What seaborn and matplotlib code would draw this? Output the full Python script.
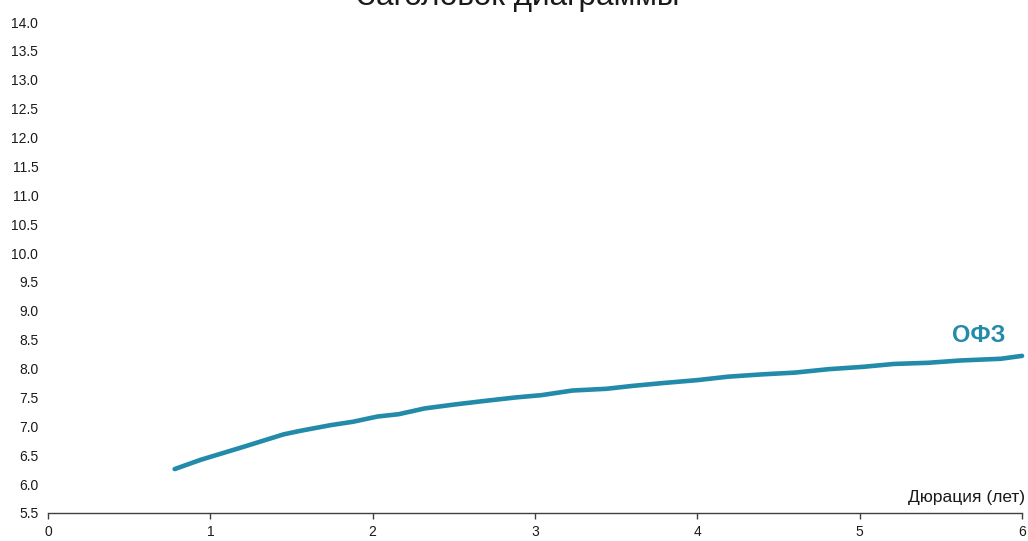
import matplotlib
matplotlib.use("Agg")
import matplotlib.pyplot as plt
import seaborn as sns
import pandas as pd
import numpy as np

# OFZ yield curve: duration (years) vs yield (%)
duration = [0.78, 0.94, 1.21, 1.45, 1.55, 1.74, 1.88, 2.03, 2.16, 2.32, 2.51,
            2.69, 2.88, 3.04, 3.23, 3.44, 3.60, 3.79, 4.00, 4.19, 4.40, 4.60,
            4.81, 5.02, 5.21, 5.42, 5.62, 5.87, 6.00]
yield_pct = [6.26, 6.42, 6.65, 6.86, 6.92, 7.02, 7.08, 7.17, 7.21, 7.31, 7.38,
             7.44, 7.50, 7.54, 7.62, 7.65, 7.70, 7.75, 7.80, 7.86, 7.90, 7.93,
             7.99, 8.03, 8.08, 8.10, 8.14, 8.17, 8.22]

x_ticks = [0, 1, 2, 3, 4, 5, 6]
y_ticks = [5.5, 6.0, 6.5, 7.0, 7.5, 8.0, 8.5, 9.0, 9.5, 10.0, 10.5, 11.0,
           11.5, 12.0, 12.5, 13.0, 13.5, 14.0]

title = "Заголовок диаграммы"
series_name = "ОФЗ"
x_label = "Дюрация (лет)"

line_color = "#238BAA"
text_color = "#1a1a1a"

sns.set_style("white")
plt.rcParams["font.family"] = ["Liberation Sans", "DejaVu Sans"]

df = pd.DataFrame({"duration": duration, "yield": yield_pct})

fig = plt.figure(figsize=(10.28, 5.41), dpi=100)
ax = fig.add_axes([0.0467, 0.0518, 0.9475, 0.9075])

sns.lineplot(data=df, x="duration", y="yield", ax=ax, color=line_color,
             linewidth=3.3, solid_capstyle="round", clip_on=False)

ax.set_xlim(0, 6)
ax.set_ylim(5.5, 14.0)
ax.set_xticks(x_ticks)
ax.set_xticklabels([str(v) for v in x_ticks])
ax.set_yticks(y_ticks)
ax.set_yticklabels([f"{v:.1f}" for v in y_ticks])

for side in ("top", "right", "left"):
    ax.spines[side].set_visible(False)
ax.spines["bottom"].set_color("#404040")
ax.spines["bottom"].set_linewidth(1.0)

ax.tick_params(axis="x", which="both", direction="out", length=4, width=1,
               color="#404040", labelsize=10, labelcolor=text_color, pad=5,
               bottom=True)
ax.tick_params(axis="y", which="both", length=0, labelsize=10,
               labelcolor=text_color, pad=7, left=False)

ax.set_xlabel("")
ax.set_ylabel("")

ax.text(6.018, 5.69, x_label, ha="right", va="baseline", fontsize=12.5,
        color=text_color)
ax.text(5.897, 8.458, series_name, ha="right", va="baseline", fontsize=17,
        fontweight="bold", color=line_color)

fig.text(0.504, 1 - 5 / 541, title, ha="center", va="baseline", fontsize=22.7,
         color=text_color)

fig.savefig("out.png", dpi=100)
